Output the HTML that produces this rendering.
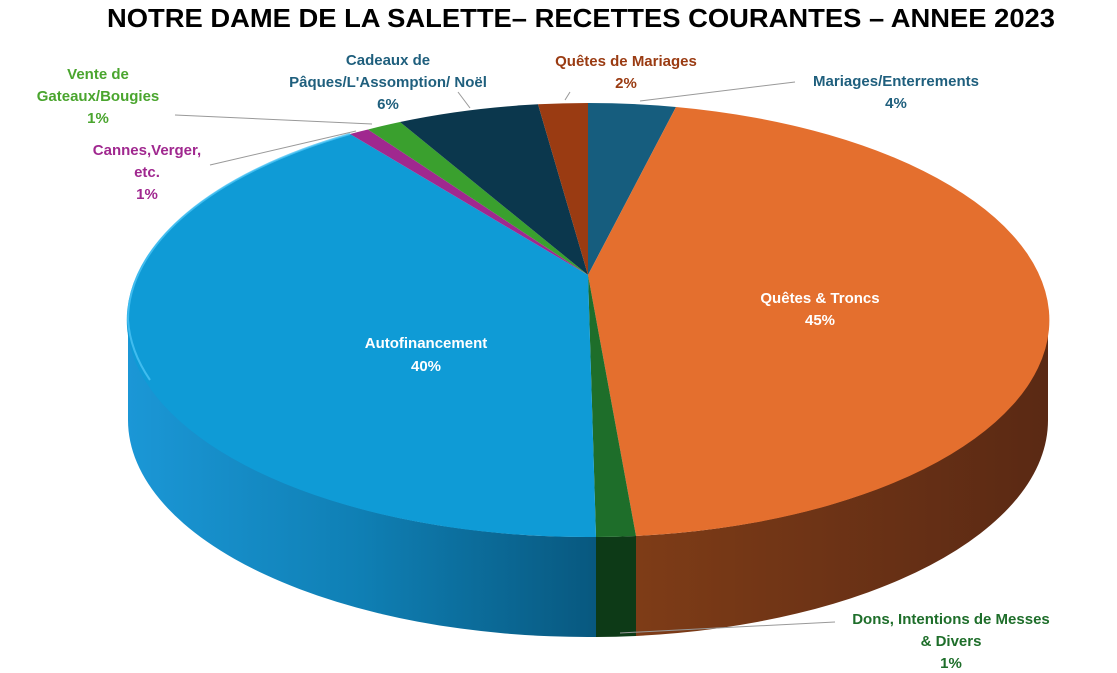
<!DOCTYPE html>
<html><head><meta charset="utf-8"><style>
body{margin:0;background:#fff;}
svg{display:block;font-family:"Liberation Sans",Arial,sans-serif;font-weight:bold;}
</style></head><body>
<svg width="1117" height="673" viewBox="0 0 1117 673" xmlns="http://www.w3.org/2000/svg">
<defs>
<linearGradient id="gb" x1="0" y1="0" x2="1" y2="0">
<stop offset="0" stop-color="#1b97d6"/><stop offset="0.5" stop-color="#0f7fb4"/><stop offset="1" stop-color="#08587f"/></linearGradient>
<linearGradient id="go" x1="0" y1="0" x2="1" y2="0">
<stop offset="0" stop-color="#7e3c17"/><stop offset="1" stop-color="#5a2914"/></linearGradient>
</defs>
<text x="107" y="27" font-size="26" fill="#000" textLength="948" lengthAdjust="spacingAndGlyphs">NOTRE DAME DE LA SALETTE– RECETTES COURANTES – ANNEE 2023</text>
<path d="M128,320 A460,217 0 0,0 596,537 L596,637 A460,217 0 0,1 128,420 Z" fill="url(#gb)"/>
<path d="M596,537 A460,217 0 0,0 636,536 L636,636 A460,217 0 0,1 596,637 Z" fill="#0d3a17"/>
<path d="M636,536 A460,217 0 0,0 1048,320 L1048,420 A460,217 0 0,1 636,636 Z" fill="url(#go)"/>
<g stroke="none">
<path d="M588,275 L588,103 A460,217 0 0,1 676,107 Z" fill="#165d7e"/>
<path d="M588,275 L676,107 A460,217 0 0,1 636,536 Z" fill="#e46f2e"/>
<path d="M588,275 L636,536 A460,217 0 0,1 596,537 Z" fill="#1e6e2a"/>
<path d="M588,275 L596,537 A460,217 0 0,1 350,134 Z" fill="#0f9bd6"/>
<path d="M588,275 L350,134 A460,217 0 0,1 368,129.5 Z" fill="#a0288f"/>
<path d="M588,275 L368,129.5 A460,217 0 0,1 400,122 Z" fill="#3aa02e"/>
<path d="M588,275 L400,122 A460,217 0 0,1 538,104.3 Z" fill="#0b374d"/>
<path d="M588,275 L538,104.3 A460,217 0 0,1 588,103 Z" fill="#9a3b12"/>
</g>
<path d="M350,134 A460,217 0 0,0 128,320 A460,217 0 0,0 150,380" fill="none" stroke="#4cc4f5" stroke-width="2" opacity="0.8"/>
<g stroke="#999" stroke-width="1" fill="none">
<path d="M640,101 L795,82"/>
<path d="M565,100 L570,92"/>
<path d="M470,108 L458,92"/>
<path d="M372,124 L175,115"/>
<path d="M356,131 L210,165"/>
<path d="M620,633 L835,622"/>
</g>
<g font-size="15" text-anchor="middle">
<text x="820" y="303" fill="#fff">Quêtes &amp; Troncs</text>
<text x="820" y="325" fill="#fff">45%</text>
<text x="426" y="348" fill="#fff">Autofinancement</text>
<text x="426" y="371" fill="#fff">40%</text>
<text x="896" y="86" fill="#1f5f7d">Mariages/Enterrements</text>
<text x="896" y="108" fill="#1f5f7d">4%</text>
<text x="626" y="66" fill="#9a3b12">Quêtes de Mariages</text>
<text x="626" y="88" fill="#9a3b12">2%</text>
<text x="388" y="65" fill="#1f5f7d">Cadeaux de</text>
<text x="388" y="87" fill="#1f5f7d">Pâques/L'Assomption/ Noël</text>
<text x="388" y="109" fill="#1f5f7d">6%</text>
<text x="98" y="79" fill="#4aa52e">Vente de</text>
<text x="98" y="101" fill="#4aa52e">Gateaux/Bougies</text>
<text x="98" y="123" fill="#4aa52e">1%</text>
<text x="147" y="155" fill="#a0288f">Cannes,Verger,</text>
<text x="147" y="177" fill="#a0288f">etc.</text>
<text x="147" y="199" fill="#a0288f">1%</text>
<text x="951" y="624" fill="#1e6e2a">Dons, Intentions de Messes</text>
<text x="951" y="646" fill="#1e6e2a">&amp; Divers</text>
<text x="951" y="668" fill="#1e6e2a">1%</text>
</g>
</svg>
</body></html>
